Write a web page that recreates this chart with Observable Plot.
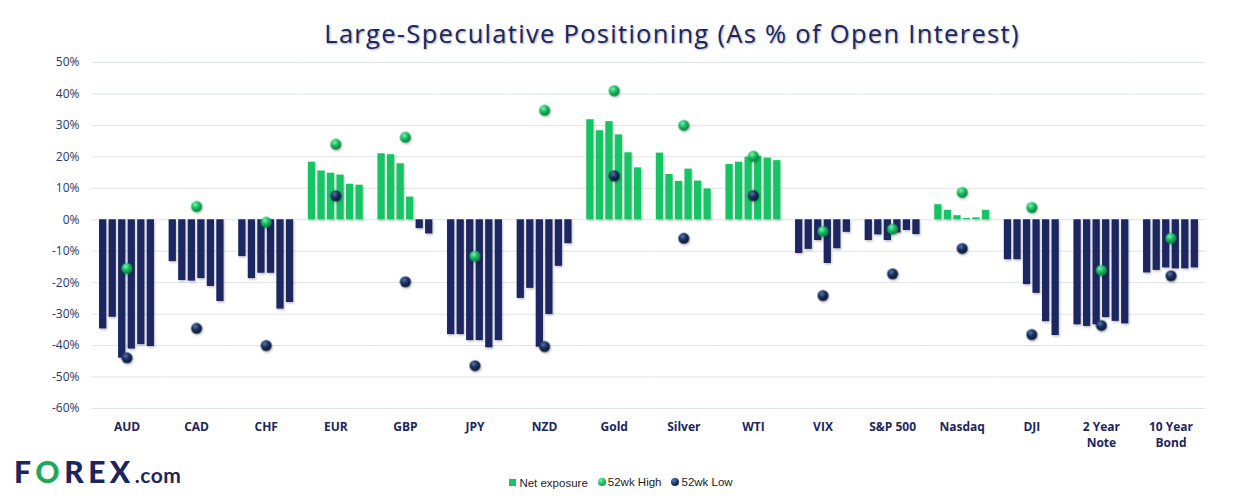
<!DOCTYPE html>
<html>
<head>
<meta charset="utf-8">
<script src="https://cdn.jsdelivr.net/npm/d3@7"></script>
<script src="https://cdn.jsdelivr.net/npm/@observablehq/plot@0.6"></script>
<style>
  html, body { margin: 0; padding: 0; background: #fff; }
  body { width: 1242px; height: 501px; position: relative; overflow: hidden; font-family: "Open Sans", sans-serif; }
  #title { height: 52px; box-sizing: border-box; padding-top: 21px; padding-left: 102px; text-align: center; font-size: 25.5px; line-height: 1; color: #1B2660; letter-spacing: 1.3px; text-shadow: 1px 1px 2px rgba(0,0,0,0.35); white-space: nowrap; }
  #chart { height: 400px; }
  #logo { position: absolute; left: 14px; top: 453px; font-family: "Lato", sans-serif; font-weight: 900; font-size: 30px; color: #1B2660; letter-spacing: 4.5px; }
  #logo .o { color: #1FA85A; }
  #logo .com { font-size: 21px; letter-spacing: 0.5px; font-weight: 700; }
  #legend { position: absolute; left: 0; width: 1242px; top: 476px; text-align: center; font-family: "Liberation Sans Narrow", "Liberation Sans", sans-serif; font-size: 11.5px; color: #222; }
  #legend span.item { display: inline-flex; align-items: center; margin: 0 5px; }
  #legend .sq { width: 7px; height: 7px; background: #19C466; display: inline-block; margin-right: 3px; }
  #legend .dot { width: 8px; height: 8px; border-radius: 50%; display: inline-block; margin-right: 2px; }
  #legend .hi { background: radial-gradient(circle at 35% 30%, #7af0ad 0%, #16bb60 50%, #0b7f3f 100%); }
  #legend .lo { background: radial-gradient(circle at 35% 30%, #5877a8 0%, #1a2f5c 55%, #0c1a36 100%); }
</style>
</head>
<body>
<div id="title">Large-Speculative Positioning (As % of Open Interest)</div>
<div id="chart"></div>
<div id="logo">F<span class="o">O</span>REX<span class="com">.com</span></div>
<div id="legend"><span class="item"><span class="sq"></span>Net exposure</span><span class="item"><span class="dot hi"></span>52wk High</span><span class="item"><span class="dot lo"></span>52wk Low</span></div>
<script>
const categories = ["AUD","CAD","CHF","EUR","GBP","JPY","NZD","Gold","Silver","WTI","VIX","S&P 500","Nasdaq","DJI","2 Year Note","10 Year Bond"];
const categoryLabels = ["AUD","CAD","CHF","EUR","GBP","JPY","NZD","Gold","Silver","WTI","VIX","S&P 500","Nasdaq","DJI","2 Year\nNote","10 Year\nBond"];
const weeks = [1, 2, 3, 4, 5, 6];
// Net exposure (% of open interest), six latest weeks per market
const netAUD    = [-34.7, -31.0, -44.0, -41.1, -39.7, -40.3];
const netCAD    = [-13.3, -19.3, -19.5, -18.7, -21.2, -26.0];
const netCHF    = [-11.7, -18.7, -17.0, -17.0, -28.4, -26.3];
const netEUR    = [18.3, 15.5, 14.8, 14.2, 11.3, 11.0];
const netGBP    = [21.0, 20.7, 17.8, 7.2, -2.8, -4.5];
const netJPY    = [-36.5, -36.5, -38.4, -38.4, -40.7, -38.4];
const netNZD    = [-25.0, -21.8, -40.5, -30.1, -14.8, -7.6];
const netGold   = [31.8, 28.3, 31.2, 27.0, 21.3, 16.5];
const netSilver = [21.2, 14.4, 12.2, 16.1, 12.3, 9.8];
const netWTI    = [17.6, 18.3, 19.9, 20.2, 19.6, 18.8];
const netVIX    = [-10.7, -9.4, -6.6, -13.9, -9.2, -4.0];
const netSPX    = [-6.6, -4.8, -6.6, -4.2, -3.4, -4.7];
const netNasdaq = [4.8, 3.0, 1.3, 0.4, 0.6, 3.0];
const netDJI    = [-12.7, -12.7, -20.6, -23.4, -32.4, -36.8];
const net2Y     = [-33.4, -33.9, -33.4, -31.1, -32.3, -33.1];
const net10Y    = [-16.9, -16.1, -15.3, -15.6, -15.6, -15.3];
const high52 = [-15.5, 4.2, -0.8, 24.0, 26.2, -11.6, 34.8, 41.0, 30.0, 20.2, -3.7, -3.0, 8.7, 3.9, -16.1, -5.9];
const low52  = [-43.9, -34.5, -40.0, 7.6, -19.7, -46.4, -40.3, 14.0, -5.9, 7.7, -24.1, -17.2, -9.1, -36.5, -33.6, -17.8];
const yTicks = [-60, -50, -40, -30, -20, -10, 0, 10, 20, 30, 40, 50];

const netSeries = [netAUD, netCAD, netCHF, netEUR, netGBP, netJPY, netNZD, netGold, netSilver, netWTI, netVIX, netSPX, netNasdaq, netDJI, net2Y, net10Y];
const GREEN = "#19C466", NAVY = "#1B2561";

const rows = categories.flatMap((c, i) => netSeries[i].map((v, j) => ({cat: c, week: weeks[j], value: v})));
const extremes = categories.map((c, i) => ({cat: c, high: high52[i], low: low52[i]}));
const labelOf = new Map(categories.map((c, i) => [c, categoryLabels[i]]));

const defs = () => {
  const ns = "http://www.w3.org/2000/svg";
  const d = document.createElementNS(ns, "defs");
  d.innerHTML = `
    <radialGradient id="gHigh" cx="38%" cy="32%" r="70%">
      <stop offset="0%" stop-color="#8af3b8"/>
      <stop offset="45%" stop-color="#17bf62"/>
      <stop offset="100%" stop-color="#0a7a3c"/>
    </radialGradient>
    <radialGradient id="gLow" cx="38%" cy="32%" r="70%">
      <stop offset="0%" stop-color="#5b7cb0"/>
      <stop offset="45%" stop-color="#1a3160"/>
      <stop offset="100%" stop-color="#0a1630"/>
    </radialGradient>
    <filter id="sh" x="-50%" y="-50%" width="200%" height="200%">
      <feDropShadow dx="1" dy="1.5" stdDeviation="1" flood-color="#000" flood-opacity="0.25"/>
    </filter>`;
  return d;
};

const PAD_IN = 0.2, PAD_OUT = 0.11, ML = 91, MR = 36, W = 1242;
const step = (W - ML - MR) / (categories.length - PAD_IN + 2 * PAD_OUT);
const halfGap = step * PAD_IN / 2;
const outer = step * PAD_OUT;

const chart = Plot.plot({
  width: W,
  height: 400,
  marginTop: 10,
  marginBottom: 44,
  marginLeft: ML,
  marginRight: MR,
  style: {fontFamily: "'Open Sans', sans-serif", background: "#fff", overflow: "visible"},
  fx: {domain: categories, paddingInner: PAD_IN, paddingOuter: PAD_OUT, round: false, axis: null, label: null},
  x: {domain: weeks, paddingInner: 0.24, paddingOuter: 0.04, round: false, axis: null},
  y: {domain: [-60, 50], axis: null},
  color: {type: "identity"},
  marks: [
    defs,
    Plot.ruleY(yTicks, {y: d => d, stroke: "#dfe4e6", strokeWidth: 1, insetLeft: -halfGap, insetRight: -halfGap}),
    Plot.axisY({ticks: yTicks, tickFormat: d => d + "%", tickSize: 0, tickPadding: 12 + outer, fontSize: 12, fill: "#2B3567", label: null, anchor: "left"}),
    Plot.barY(rows, {fx: "cat", x: "week", y: "value", fill: d => d.value >= 0 ? GREEN : NAVY}),
    Plot.dot(extremes, {fx: "cat", y: "high", r: 5.5, fill: "url(#gHigh)", stroke: "none"}),
    Plot.dot(extremes, {fx: "cat", y: "low", r: 5.5, fill: "url(#gLow)", stroke: "none"}),
    Plot.axisFx({anchor: "bottom", tickSize: 0, tickPadding: 11, tickFormat: d => labelOf.get(d), fontSize: 12, fontWeight: "bold", fill: NAVY, lineHeight: 1.35, label: null})
  ]
});
chart.querySelectorAll("g[aria-label='bar']").forEach(g => g.setAttribute("filter", "url(#sh)"));
chart.querySelectorAll("g[aria-label='dot']").forEach(g => g.setAttribute("filter", "url(#sh)"));
document.getElementById("chart").appendChild(chart);
</script>
</body>
</html>
